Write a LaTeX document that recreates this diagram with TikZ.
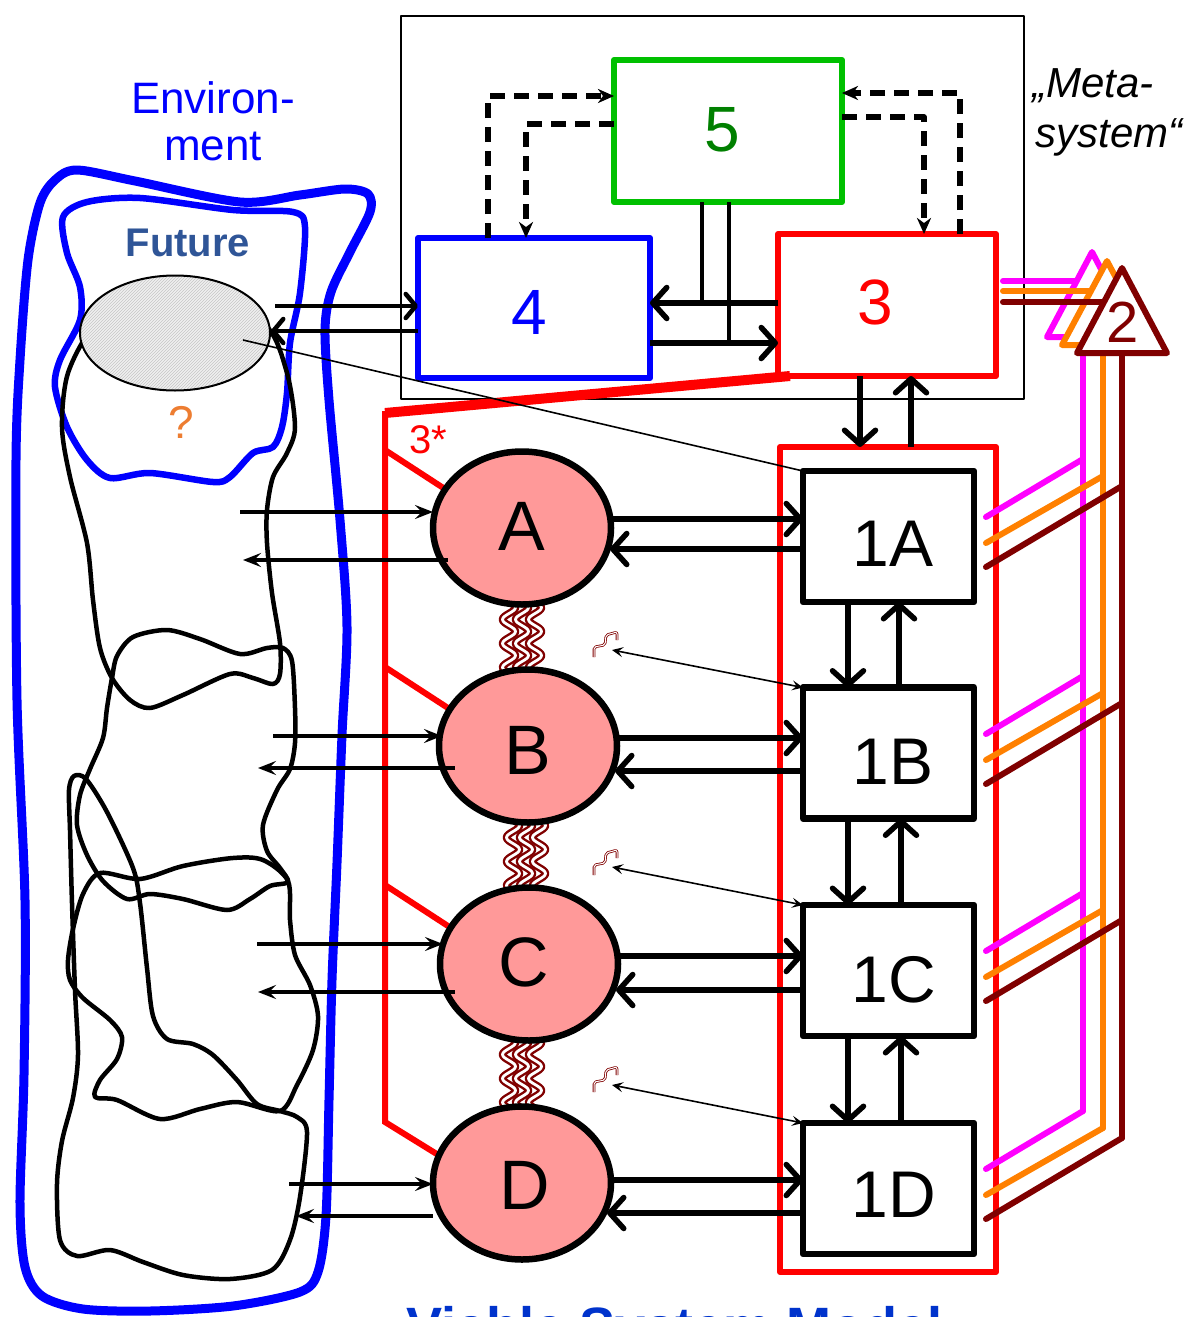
\documentclass[tikz,border=0pt]{standalone}
\usepackage{fontspec}
\setmainfont{Liberation Sans}
\usetikzlibrary{arrows.meta,shapes.geometric,decorations.pathmorphing,patterns}
\definecolor{vsmred}{RGB}{255,0,0}
\definecolor{vsmgreen}{RGB}{0,192,0}
\definecolor{vsmdkgreen}{RGB}{0,128,0}
\definecolor{vsmblue}{RGB}{0,0,255}
\definecolor{futblue}{RGB}{47,85,151}
\definecolor{qorange}{RGB}{237,125,49}
\definecolor{mag}{RGB}{255,0,255}
\definecolor{orng}{RGB}{255,128,0}
\definecolor{dred}{RGB}{128,0,0}
\definecolor{opfill}{RGB}{255,153,153}
\definecolor{vsmtitle}{RGB}{0,51,204}
\newcommand{\fs}[1]{\fontsize{#1}{#1}\selectfont}
\begin{document}
\begin{tikzpicture}[x=1pt,y=-1pt,line join=round,
  box/.style={draw,inner sep=0pt,outer sep=0pt,line width=6pt},
  opbox/.style={draw=black,line width=6.5pt,minimum width=171pt,minimum height=131pt,inner sep=0pt,outer sep=0pt},
  opell/.style={ellipse,draw=black,fill=opfill,line width=6.5pt,minimum width=178pt,minimum height=153pt,inner sep=0pt,outer sep=0pt},
  bigarr/.style={line width=5.5pt,-{Straight Barb[length=14pt,width=31pt,round]}},
  midarr/.style={line width=4.5pt,-{Straight Barb[length=10pt,width=24pt,round]}},
  envarr/.style={line width=4pt,-{Stealth[length=18pt,width=14pt,inset=7pt]}},
  thinarr/.style={line width=1.6pt,{Stealth[length=11pt,width=10pt,inset=4.5pt]}-{Stealth[length=11pt,width=10pt,inset=4.5pt]}},
  dasharr/.style={line width=5.5pt,dash pattern=on 15pt off 9pt,-{Stealth[length=16pt,width=14pt,inset=5pt]}},
  blob/.style={draw=black,line width=4.5pt},
  wave/.style={draw=dred,line width=2.4pt,double=white,double distance=2.8pt,decorate,decoration={snake,amplitude=6.5pt,segment length=24pt}},
  sqg/.style={draw=dred,line width=0.8pt,double=white,double distance=1pt,rounded corners=2pt},
  s2line/.style={line width=6pt,line cap=round}
]
\useasboundingbox (0,0) rectangle (1191,1317);
\clip (0,0) rectangle (1191,1317);

% ---------- environment ----------
\draw[vsmblue,line width=9pt] plot[smooth cycle,tension=0.5] coordinates {
 (77,170) (135,181) (240,202) (300,195) (345,189) (368,194) (370,212) (350,252) (331,292) (325,330)
 (329,400) (340,520) (347,627) (342,735) (337,863) (332,980) (329,1100) (326,1216) (318,1272) (300,1292)
 (233,1306) (150,1311) (83,1309) (42,1296) (25,1267) (20,1203) (24,1075) (25,900) (17,700) (16,460)
 (20,360) (28,260) (40,203) (55,180)};
\draw[vsmblue,line width=6.5pt] plot[smooth cycle,tension=0.5] coordinates {
 (63,217) (87,202) (140,198) (233,210) (293,212) (305,227) (300,293) (290,343) (287,393) (282,427)
 (273,447) (253,453) (230,477) (213,482) (150,473) (110,478) (87,460) (67,427) (55,387) (60,360)
 (80,320) (80,287) (67,253)};

% black tangle
\draw[blob] plot[smooth cycle,tension=0.5] coordinates {
 (95,325) (68,373) (62,427) (70,477) (87,543) (93,600) (100,648) (112,678) (130,700) (150,708)
 (183,695) (230,674) (253,678) (273,684) (280,674) (280,643) (272,593) (267,543) (267,510) (273,477)
 (287,453) (295,427) (287,373) (265,325) (200,300) (140,300)};
\draw[blob] plot[smooth cycle,tension=0.5] coordinates {
 (112,678) (117,656) (133,637) (167,630) (200,639) (240,654) (267,648) (283,648) (292,661) (295,708)
 (295,743) (290,769) (277,790) (263,825) (267,851) (280,868) (288,882) (270,886) (250,899) (227,910)
 (183,899) (150,894) (127,899) (103,881) (87,855) (77,825) (80,795) (90,769) (103,738) (107,708)};
\draw[blob] plot[smooth cycle,tension=0.5] coordinates {
 (100,873) (140,879) (183,866) (233,858) (263,860) (288,881) (290,920) (295,955) (310,985) (318,1016)
 (313,1050) (297,1085) (280,1111) (237,1102) (200,1109) (160,1119) (117,1100) (95,1097) (100,1080)
 (117,1059) (122,1037) (110,1020) (83,998) (70,980) (68,960) (73,929) (83,894)};
\draw[blob] plot[smooth cycle,tension=0.5] coordinates {
 (74,776) (86,779) (107,812) (133,868) (140,903) (147,968) (153,1016) (167,1039) (193,1044) (213,1055)
 (237,1080) (257,1104) (280,1111) (297,1117) (307,1132) (300,1197) (290,1240) (272,1270) (230,1279)
 (183,1275) (143,1262) (110,1250) (77,1256) (60,1240) (57,1184) (62,1141) (73,1098) (78,1055) (75,990)
 (72,903) (70,830) (69,790)};

\node[ellipse,draw,line width=2pt,minimum width=190pt,minimum height=115pt,inner sep=0pt,
  preaction={fill=gray!12},pattern=north east lines,pattern color=gray!45] (fut) at (175,333) {};

\node[text=vsmblue,font=\fs{44},anchor=base] (env1) at (213,113) {Environ-};
\node[text=vsmblue,font=\fs{44},anchor=base] (env2) at (213,160) {ment};
\node[text=futblue,font=\fs{40}\bfseries,anchor=base] (futl) at (188,256) {Future};
\node[text=qorange,font=\fs{46}] (qm) at (181,422) {?};

% ---------- metasystem ----------
\node[draw,line width=2pt,minimum width=623pt,minimum height=383pt,inner sep=0pt,outer sep=0pt] (meta) at (712.5,207.5) {};
\node[font=\fs{42}\itshape,anchor=base west] (mt1) at (1029,97) {„Meta-};
\node[font=\fs{42}\itshape,anchor=base west] (mt2) at (1032,147) {system“};

\node[box,draw=vsmgreen,minimum width=228pt,minimum height=142pt] (b5) at (728,131) {};
\node[box,draw=vsmblue,minimum width=232pt,minimum height=140pt] (b4) at (534,308) {};
\node[box,draw=vsmred,minimum width=218pt,minimum height=142pt] (b3) at (887,305) {};
\node[text=vsmdkgreen,font=\fs{64}] (l5) at (722,130) {5};
\node[text=vsmblue,font=\fs{64}] (l4) at (529,312) {4};
\node[text=vsmred,font=\fs{64}] (l3) at (875,302) {3};

% dashed channels
\draw[dasharr] (b4.north -| 488,0) -- (488,96) -- (b5.west |- 0,96);
\draw[dasharr] (b5.west |- 0,124) -- (526,124) -- (b4.north -| 526,0);
\draw[dasharr] (b3.north -| 960,0) -- (960,93) -- (b5.east |- 0,93);
\draw[dasharr] (b5.east |- 0,117) -- (924,117) -- (b3.north -| 924,0);

% 5 - 4 - 3
\draw[line width=4.5pt] (b5.south -| 702,0) -- (702,303);
\draw[line width=4.5pt] (b5.south -| 729,0) -- (729,343);
\draw[bigarr] (b3.west |- 0,303) -- (b4.east |- 0,303);
\draw[bigarr] (b4.east |- 0,343) -- (b3.west |- 0,343);

% future <-> 4
\draw[midarr] (275,306) -- (b4.west |- 0,306);
\draw[midarr] (b4.west |- 0,331) -- (fut.east |- 0,331);

% ---------- system 3* ----------
\draw[vsmred,line width=10pt] (b3.south west) ++(12,0) -- (385,413);
\draw[vsmred,line width=6pt,line join=miter] (385,411) -- (385,1122) -- (440,1156);
\draw[vsmred,line width=6pt] (385,450) -- (448,491);
\draw[vsmred,line width=6pt] (385,667) -- (448,708);
\draw[vsmred,line width=6pt] (385,885) -- (448,926);
\node[text=vsmred,font=\fs{40},anchor=base west] (l3s) at (406,453) {3*};

% waves between operations
\foreach \yy/\xx in {600/0,818/4,1035/0}{
  \draw[wave] (509+\xx,\yy) -- (509+\xx,\yy+76);
  \draw[wave] (522+\xx,\yy) -- (522+\xx,\yy+76);
  \draw[wave] (535+\xx,\yy) -- (535+\xx,\yy+76);
}

% operations
\node[opell] (eA) at (522,528) {};
\node[opell] (eB) at (528,746) {};
\node[opell] (eC) at (529,964) {};
\node[opell] (eD) at (522,1183) {};
\node[font=\fs{70}] (lA) at (522,526) {A};
\node[font=\fs{70}] (lB) at (528,750) {B};
\node[font=\fs{70}] (lC) at (524,962) {C};
\node[font=\fs{70}] (lD) at (525,1185) {D};

% red operations frame
\node[draw=vsmred,line width=6pt,minimum width=216pt,minimum height=825pt,inner sep=0pt,outer sep=0pt] (opf) at (888,859.5) {};

% management units
\node[opbox] (n1A) at (888.5,536.5) {};
\node[opbox] (n1B) at (888.5,753) {};
\node[opbox] (n1C) at (888.5,970.5) {};
\node[opbox] (n1D) at (888.5,1188.5) {};
\node[font=\fs{66}] (t1A) at (893,544) {1A};
\node[font=\fs{66}] (t1B) at (893,762) {1B};
\node[font=\fs{66}] (t1C) at (894,980) {1C};
\node[font=\fs{66}] (t1D) at (894,1195) {1D};

% 3 <-> operations frame
\draw[bigarr] (b3.south -| 860,0) -- (opf.north -| 860,0);
\draw[bigarr] (opf.north -| 911,0) -- (b3.south -| 911,0);

% vertical between 1x
\draw[bigarr] (n1A.south -| 848,0) -- (n1B.north -| 848,0);
\draw[bigarr] (n1B.north -| 899,0) -- (n1A.south -| 899,0);
\draw[bigarr] (n1B.south -| 848,0) -- (n1C.north -| 848,0);
\draw[bigarr] (n1C.north -| 901,0) -- (n1B.south -| 901,0);
\draw[bigarr] (n1C.south -| 848,0) -- (n1D.north -| 848,0);
\draw[bigarr] (n1D.north -| 901,0) -- (n1C.south -| 901,0);

% operations <-> management
\draw[bigarr] (eA.east |- 0,519) -- (n1A.west |- 0,519);
\draw[bigarr] (n1A.west |- 0,549) -- (610,549);
\draw[bigarr] (eB.east |- 0,738) -- (n1B.west |- 0,738);
\draw[bigarr] (n1B.west |- 0,771) -- (615,771);
\draw[bigarr] (eC.east |- 0,956) -- (n1C.west |- 0,956);
\draw[bigarr] (n1C.west |- 0,990) -- (616,990);
\draw[bigarr] (eD.east |- 0,1180) -- (n1D.west |- 0,1180);
\draw[bigarr] (n1D.west |- 0,1213) -- (607,1213);

% environment <-> operations
\draw[envarr] (240,512) -- (eA.west |- 0,512);
\draw[envarr] (448,560) -- (243,560);
\draw[envarr] (273,736) -- (442,736);
\draw[envarr] (455,768) -- (258,768);
\draw[envarr] (257,944) -- (443,944);
\draw[envarr] (455,992) -- (258,992);
\draw[envarr] (289,1184) -- (433,1184);
\draw[envarr] (433,1216) -- (296,1216);

% future -> 1A thin line
\draw[line width=1.6pt] (243,340) -- (n1A.north west);

% squiggles and thin double arrows
\foreach \yy [count=\i] in {657,875,1092}{
  \draw[sqg] (594,\yy) -- (594,\yy-10) -- (605,\yy-12) -- (606,\yy-22) -- (617,\yy-25) -- (617,\yy-17);
}
\draw[thinarr] (612,650) -- (n1B.north west);
\draw[thinarr] (612,867) -- (n1C.north west);
\draw[thinarr] (612,1085) -- (n1D.north west);

% ---------- system 2 ----------
\draw[mag,s2line] (1083,340) -- (1083,1111);
\draw[mag,s2line] (1003,281) -- (1085,281);
\draw[mag,line width=6pt,fill=white] (1092,252) -- (1047,337) -- (1137,337) -- cycle;
\draw[orng,s2line] (1103,348) -- (1103,1128);
\draw[orng,s2line] (1003,291) -- (1100,291);
\draw[orng,line width=6pt,fill=white] (1107,261) -- (1062,345) -- (1152,345) -- cycle;
\draw[dred,s2line] (1122,356) -- (1122,1138);
\draw[dred,s2line] (1003,302) -- (1112,302);
\draw[dred,line width=6pt,fill=white] (1122,268) -- (1077,353) -- (1167,353) -- cycle;
\node[text=dred,font=\fs{58}] (l2) at (1123,322) {2};

\foreach \T in {471,688,905,1123}{
  \draw[mag,s2line] (986,\T+46) -- (1083,\T-12);
  \draw[orng,s2line] (986,\T+72) -- (1103,\T+5);
  \draw[dred,s2line] (986,\T+96) -- (1122,\T+15);
}

% title (cut off at the bottom, as in the original)
\node[text=vsmtitle,font=\fs{54}\bfseries,anchor=base west] (title) at (403,1345) {Viable System Model};
\end{tikzpicture}
\end{document}
